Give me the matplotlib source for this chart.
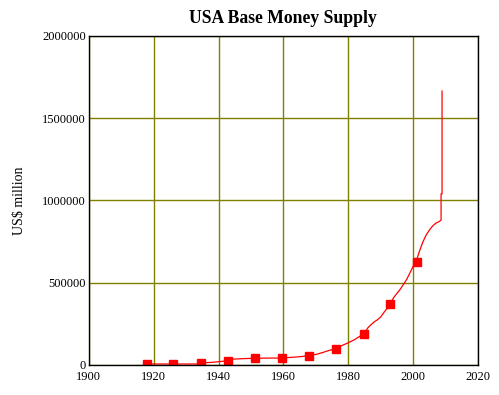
import matplotlib
matplotlib.use('Agg')
import matplotlib.pyplot as plt
from matplotlib.ticker import FuncFormatter

# Base money (US$ million)
years = [1917.5, 1935.0, 1935.0, 1936.0, 1938.0, 1940.0, 1942.0, 1943.0, 1944.0,
         1947.0, 1950.0, 1955.0, 1960.0, 1962.0, 1965.0, 1968.0, 1970.0, 1972.0,
         1974.0, 1976.0, 1978.0, 1980.0, 1982.0, 1984.0, 1985.0, 1986.0, 1987.0,
         1988.0, 1989.0, 1990.0, 1991.0, 1992.0, 1993.0, 1994.0, 1995.0, 1996.0,
         1997.0, 1998.0, 1999.0, 2000.0, 2001.0, 2002.0, 2003.0, 2004.0, 2005.0,
         2006.0, 2007.0, 2008.0, 2008.6, 2008.6, 2008.9, 2008.9]
money = [6000, 6000, 10000, 14000, 16000, 20000, 24000, 30000, 35000,
         38000, 40000, 42000, 42000, 46000, 50000, 57000, 64000, 75000,
         88000, 99000, 118000, 135000, 155000, 180000, 195000, 225000, 245000,
         262000, 275000, 292000, 320000, 345000, 375000, 410000, 435000, 460000,
         490000, 520000, 560000, 600000, 635000, 695000, 748000, 790000, 820000,
         845000, 862000, 872000, 880000, 1040000, 1040000, 1665000]

# square markers along the series
mark_years = [1917.8, 1926.1, 1934.6, 1942.9, 1951.3, 1959.6, 1968.0, 1976.2,
              1984.7, 1992.9, 2001.2]
mark_money = [6000, 6000, 9000, 22000, 40000, 42000, 57000, 99000,
              190000, 369000, 626000]

xticks = [1900, 1920, 1940, 1960, 1980, 2000, 2020]
yticks = [0, 500000, 1000000, 1500000, 2000000]

plt.rcParams['font.family'] = ['Liberation Serif', 'DejaVu Serif']

fig = plt.figure(figsize=(4.99, 3.95), dpi=100)
ax = fig.add_axes([0.178, 0.076, 0.78, 0.833])

ax.plot(years, money, color='red', linewidth=0.9)
ax.plot(mark_years, mark_money, linestyle='none', marker='s', markersize=6,
        color='red')

ax.set_xlim(1900, 2020)
ax.set_ylim(0, 2000000)
ax.set_xticks(xticks)
ax.set_yticks(yticks)
ax.yaxis.set_major_formatter(FuncFormatter(lambda v, p: '%d' % v))
ax.tick_params(length=0, labelsize=9)
ax.tick_params(axis='y', pad=2)
ax.tick_params(axis='x', pad=4)
ax.grid(True, color='#808000', linewidth=1)
ax.set_axisbelow(True)
for s in ax.spines.values():
    s.set_color('black')
    s.set_linewidth(1)

ax.set_ylabel('US\\$ million', fontsize=10, labelpad=12)
ax.set_title('USA Base Money Supply', fontsize=12.7, fontweight='bold', pad=9)

fig.savefig('out.png', dpi=100)
